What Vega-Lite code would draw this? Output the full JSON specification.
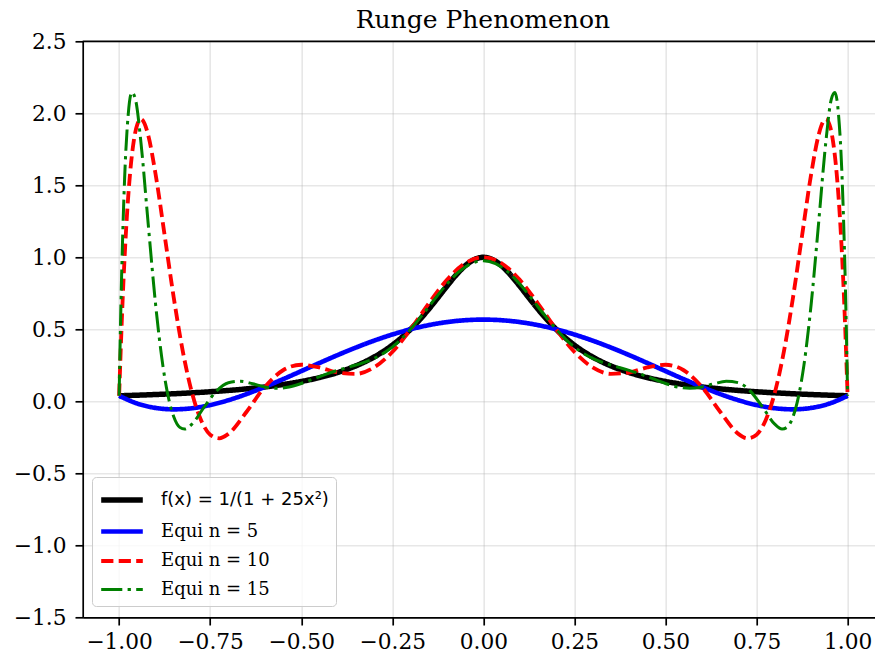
{
  "$schema": "https://vega.github.io/schema/vega-lite/v6.json",
  "width": 792.3,
  "height": 576,
  "autosize": {"type": "none"},
  "padding": {"left": 82.7, "top": 41.3, "right": 0, "bottom": 40.7},
  "title": {"text": "Runge Phenomenon", "font": "DejaVu Serif", "fontSize": 25, "fontWeight": "normal", "color": "black", "offset": -2, "dx": 4},
  "config": {"view": {"stroke": null}, "font": "DejaVu Serif"},
  "layer": [
    {
      "data": {"values": [{}]},
      "mark": {"type": "rule", "stroke": "black", "strokeWidth": 1.7},
      "encoding": {"y": {"datum": 2.5, "type": "quantitative", "scale": {"domain": [-1.5, 2.5], "nice": false, "zero": false}}}
    },
    {
      "data": {"values": [
        {"s": "f", "x": -1, "y": 0.0385}, {"s": "f", "x": -0.95, "y": 0.0424}, {"s": "f", "x": -0.9, "y": 0.0471}, {"s": "f", "x": -0.85, "y": 0.0525}, {"s": "f", "x": -0.8, "y": 0.0588}, {"s": "f", "x": -0.75, "y": 0.0664}, {"s": "f", "x": -0.7, "y": 0.0755}, {"s": "f", "x": -0.65, "y": 0.0865}, {"s": "f", "x": -0.6, "y": 0.1}, {"s": "f", "x": -0.55, "y": 0.1168}, {"s": "f", "x": -0.5, "y": 0.1379}, {"s": "f", "x": -0.45, "y": 0.1649}, {"s": "f", "x": -0.4, "y": 0.2}, {"s": "f", "x": -0.35, "y": 0.2462}, {"s": "f", "x": -0.3, "y": 0.3077}, {"s": "f", "x": -0.275, "y": 0.3459}, {"s": "f", "x": -0.25, "y": 0.3902}, {"s": "f", "x": -0.225, "y": 0.4414}, {"s": "f", "x": -0.2, "y": 0.5}, {"s": "f", "x": -0.175, "y": 0.5664}, {"s": "f", "x": -0.15, "y": 0.64}, {"s": "f", "x": -0.125, "y": 0.7191}, {"s": "f", "x": -0.1, "y": 0.8}, {"s": "f", "x": -0.075, "y": 0.8767}, {"s": "f", "x": -0.05, "y": 0.9412}, {"s": "f", "x": -0.025, "y": 0.9846}, {"s": "f", "x": 0, "y": 1},
        {"s": "f", "x": 0.025, "y": 0.9846}, {"s": "f", "x": 0.05, "y": 0.9412}, {"s": "f", "x": 0.075, "y": 0.8767}, {"s": "f", "x": 0.1, "y": 0.8}, {"s": "f", "x": 0.125, "y": 0.7191}, {"s": "f", "x": 0.15, "y": 0.64}, {"s": "f", "x": 0.175, "y": 0.5664}, {"s": "f", "x": 0.2, "y": 0.5}, {"s": "f", "x": 0.225, "y": 0.4414}, {"s": "f", "x": 0.25, "y": 0.3902}, {"s": "f", "x": 0.275, "y": 0.3459}, {"s": "f", "x": 0.3, "y": 0.3077}, {"s": "f", "x": 0.35, "y": 0.2462}, {"s": "f", "x": 0.4, "y": 0.2}, {"s": "f", "x": 0.45, "y": 0.1649}, {"s": "f", "x": 0.5, "y": 0.1379}, {"s": "f", "x": 0.55, "y": 0.1168}, {"s": "f", "x": 0.6, "y": 0.1}, {"s": "f", "x": 0.65, "y": 0.0865}, {"s": "f", "x": 0.7, "y": 0.0755}, {"s": "f", "x": 0.75, "y": 0.0664}, {"s": "f", "x": 0.8, "y": 0.0588}, {"s": "f", "x": 0.85, "y": 0.0525}, {"s": "f", "x": 0.9, "y": 0.0471}, {"s": "f", "x": 0.95, "y": 0.0424}, {"s": "f", "x": 1, "y": 0.0385},

        {"s": "n5", "x": -1, "y": 0.0385}, {"s": "n5", "x": -0.95, "y": -0.0158}, {"s": "n5", "x": -0.9, "y": -0.046}, {"s": "n5", "x": -0.85, "y": -0.0558}, {"s": "n5", "x": -0.8, "y": -0.0481}, {"s": "n5", "x": -0.75, "y": -0.026}, {"s": "n5", "x": -0.7, "y": 0.0078}, {"s": "n5", "x": -0.65, "y": 0.0506}, {"s": "n5", "x": -0.6, "y": 0.1}, {"s": "n5", "x": -0.55, "y": 0.1537}, {"s": "n5", "x": -0.5, "y": 0.2097}, {"s": "n5", "x": -0.45, "y": 0.2661}, {"s": "n5", "x": -0.4, "y": 0.3212}, {"s": "n5", "x": -0.35, "y": 0.3733}, {"s": "n5", "x": -0.3, "y": 0.4213}, {"s": "n5", "x": -0.25, "y": 0.4638}, {"s": "n5", "x": -0.2, "y": 0.5}, {"s": "n5", "x": -0.15, "y": 0.529}, {"s": "n5", "x": -0.1, "y": 0.5501}, {"s": "n5", "x": -0.05, "y": 0.563}, {"s": "n5", "x": 0, "y": 0.5673},
        {"s": "n5", "x": 0.05, "y": 0.563}, {"s": "n5", "x": 0.1, "y": 0.5501}, {"s": "n5", "x": 0.15, "y": 0.529}, {"s": "n5", "x": 0.2, "y": 0.5}, {"s": "n5", "x": 0.25, "y": 0.4638}, {"s": "n5", "x": 0.3, "y": 0.4213}, {"s": "n5", "x": 0.35, "y": 0.3733}, {"s": "n5", "x": 0.4, "y": 0.3212}, {"s": "n5", "x": 0.45, "y": 0.2661}, {"s": "n5", "x": 0.5, "y": 0.2097}, {"s": "n5", "x": 0.55, "y": 0.1537}, {"s": "n5", "x": 0.6, "y": 0.1}, {"s": "n5", "x": 0.65, "y": 0.0506}, {"s": "n5", "x": 0.7, "y": 0.0078}, {"s": "n5", "x": 0.75, "y": -0.026}, {"s": "n5", "x": 0.8, "y": -0.0481}, {"s": "n5", "x": 0.85, "y": -0.0558}, {"s": "n5", "x": 0.9, "y": -0.046}, {"s": "n5", "x": 0.95, "y": -0.0158}, {"s": "n5", "x": 1, "y": 0.0385},

        {"s": "n10", "x": -1, "y": 0.0385}, {"s": "n10", "x": -0.99, "y": 0.7261}, {"s": "n10", "x": -0.98, "y": 1.2303}, {"s": "n10", "x": -0.97, "y": 1.581}, {"s": "n10", "x": -0.96, "y": 1.8044}, {"s": "n10", "x": -0.95, "y": 1.9236}, {"s": "n10", "x": -0.94, "y": 1.959}, {"s": "n10", "x": -0.93, "y": 1.9279}, {"s": "n10", "x": -0.92, "y": 1.8458}, {"s": "n10", "x": -0.9, "y": 1.5787}, {"s": "n10", "x": -0.875, "y": 1.1517}, {"s": "n10", "x": -0.85, "y": 0.7195}, {"s": "n10", "x": -0.825, "y": 0.345}, {"s": "n10", "x": -0.8, "y": 0.0588}, {"s": "n10", "x": -0.775, "y": -0.1312}, {"s": "n10", "x": -0.75, "y": -0.2315}, {"s": "n10", "x": -0.725, "y": -0.2569}, {"s": "n10", "x": -0.7, "y": -0.2262}, {"s": "n10", "x": -0.65, "y": -0.0726}, {"s": "n10", "x": -0.6, "y": 0.1}, {"s": "n10", "x": -0.55, "y": 0.2156}, {"s": "n10", "x": -0.5, "y": 0.2538}, {"s": "n10", "x": -0.45, "y": 0.235}, {"s": "n10", "x": -0.4, "y": 0.2}, {"s": "n10", "x": -0.35, "y": 0.1906}, {"s": "n10", "x": -0.3, "y": 0.2354}, {"s": "n10", "x": -0.25, "y": 0.3426}, {"s": "n10", "x": -0.2, "y": 0.5}, {"s": "n10", "x": -0.15, "y": 0.679}, {"s": "n10", "x": -0.1, "y": 0.8434}, {"s": "n10", "x": -0.05, "y": 0.9586}, {"s": "n10", "x": 0, "y": 1},
        {"s": "n10", "x": 0.05, "y": 0.9586}, {"s": "n10", "x": 0.1, "y": 0.8434}, {"s": "n10", "x": 0.15, "y": 0.679}, {"s": "n10", "x": 0.2, "y": 0.5}, {"s": "n10", "x": 0.25, "y": 0.3426}, {"s": "n10", "x": 0.3, "y": 0.2354}, {"s": "n10", "x": 0.35, "y": 0.1906}, {"s": "n10", "x": 0.4, "y": 0.2}, {"s": "n10", "x": 0.45, "y": 0.235}, {"s": "n10", "x": 0.5, "y": 0.2538}, {"s": "n10", "x": 0.55, "y": 0.2156}, {"s": "n10", "x": 0.6, "y": 0.1}, {"s": "n10", "x": 0.65, "y": -0.0726}, {"s": "n10", "x": 0.7, "y": -0.2262}, {"s": "n10", "x": 0.725, "y": -0.2569}, {"s": "n10", "x": 0.75, "y": -0.2315}, {"s": "n10", "x": 0.775, "y": -0.1312}, {"s": "n10", "x": 0.8, "y": 0.0588}, {"s": "n10", "x": 0.825, "y": 0.345}, {"s": "n10", "x": 0.85, "y": 0.7195}, {"s": "n10", "x": 0.875, "y": 1.1517}, {"s": "n10", "x": 0.9, "y": 1.5787}, {"s": "n10", "x": 0.92, "y": 1.8458}, {"s": "n10", "x": 0.93, "y": 1.9279}, {"s": "n10", "x": 0.94, "y": 1.959}, {"s": "n10", "x": 0.95, "y": 1.9236}, {"s": "n10", "x": 0.96, "y": 1.8044}, {"s": "n10", "x": 0.97, "y": 1.581}, {"s": "n10", "x": 0.98, "y": 1.2303}, {"s": "n10", "x": 0.99, "y": 0.7261}, {"s": "n10", "x": 1, "y": 0.0385},

        {"s": "n15", "x": -1, "y": 0.0385}, {"s": "n15", "x": -0.995, "y": 0.6752}, {"s": "n15", "x": -0.985, "y": 1.5428}, {"s": "n15", "x": -0.975, "y": 1.9927}, {"s": "n15", "x": -0.965, "y": 2.145}, {"s": "n15", "x": -0.955, "y": 2.0953}, {"s": "n15", "x": -0.94, "y": 1.7951}, {"s": "n15", "x": -0.92, "y": 1.2266}, {"s": "n15", "x": -0.9, "y": 0.6759}, {"s": "n15", "x": -0.88, "y": 0.2497}, {"s": "n15", "x": -0.86667, "y": 0.0506}, {"s": "n15", "x": -0.85, "y": -0.1077}, {"s": "n15", "x": -0.83333, "y": -0.1811}, {"s": "n15", "x": -0.82, "y": -0.1931}, {"s": "n15", "x": -0.8, "y": -0.1589}, {"s": "n15", "x": -0.76667, "y": -0.0408}, {"s": "n15", "x": -0.73333, "y": 0.0692}, {"s": "n15", "x": -0.7, "y": 0.1289}, {"s": "n15", "x": -0.66667, "y": 0.1392}, {"s": "n15", "x": -0.63333, "y": 0.1216}, {"s": "n15", "x": -0.6, "y": 0.1}, {"s": "n15", "x": -0.56667, "y": 0.0908}, {"s": "n15", "x": -0.53333, "y": 0.0996}, {"s": "n15", "x": -0.5, "y": 0.1236}, {"s": "n15", "x": -0.46667, "y": 0.1552}, {"s": "n15", "x": -0.43333, "y": 0.1871}, {"s": "n15", "x": -0.4, "y": 0.215}, {"s": "n15", "x": -0.36667, "y": 0.2394}, {"s": "n15", "x": -0.33333, "y": 0.2647}, {"s": "n15", "x": -0.3, "y": 0.2979}, {"s": "n15", "x": -0.26667, "y": 0.3458}, {"s": "n15", "x": -0.23333, "y": 0.4131}, {"s": "n15", "x": -0.2, "y": 0.5}, {"s": "n15", "x": -0.16667, "y": 0.6022}, {"s": "n15", "x": -0.13333, "y": 0.7109}, {"s": "n15", "x": -0.1, "y": 0.8144}, {"s": "n15", "x": -0.06667, "y": 0.9}, {"s": "n15", "x": -0.03333, "y": 0.9565}, {"s": "n15", "x": 0, "y": 0.9763},
        {"s": "n15", "x": 0.03333, "y": 0.9565}, {"s": "n15", "x": 0.06667, "y": 0.9}, {"s": "n15", "x": 0.1, "y": 0.8144}, {"s": "n15", "x": 0.13333, "y": 0.7109}, {"s": "n15", "x": 0.16667, "y": 0.6022}, {"s": "n15", "x": 0.2, "y": 0.5}, {"s": "n15", "x": 0.23333, "y": 0.4131}, {"s": "n15", "x": 0.26667, "y": 0.3458}, {"s": "n15", "x": 0.3, "y": 0.2979}, {"s": "n15", "x": 0.33333, "y": 0.2647}, {"s": "n15", "x": 0.36667, "y": 0.2394}, {"s": "n15", "x": 0.4, "y": 0.215}, {"s": "n15", "x": 0.43333, "y": 0.1871}, {"s": "n15", "x": 0.46667, "y": 0.1552}, {"s": "n15", "x": 0.5, "y": 0.1236}, {"s": "n15", "x": 0.53333, "y": 0.0996}, {"s": "n15", "x": 0.56667, "y": 0.0908}, {"s": "n15", "x": 0.6, "y": 0.1}, {"s": "n15", "x": 0.63333, "y": 0.1216}, {"s": "n15", "x": 0.66667, "y": 0.1392}, {"s": "n15", "x": 0.7, "y": 0.1289}, {"s": "n15", "x": 0.73333, "y": 0.0692}, {"s": "n15", "x": 0.76667, "y": -0.0408}, {"s": "n15", "x": 0.8, "y": -0.1589}, {"s": "n15", "x": 0.82, "y": -0.1931}, {"s": "n15", "x": 0.83333, "y": -0.1811}, {"s": "n15", "x": 0.85, "y": -0.1077}, {"s": "n15", "x": 0.86667, "y": 0.0506}, {"s": "n15", "x": 0.88, "y": 0.2497}, {"s": "n15", "x": 0.9, "y": 0.6759}, {"s": "n15", "x": 0.92, "y": 1.2266}, {"s": "n15", "x": 0.94, "y": 1.7951}, {"s": "n15", "x": 0.955, "y": 2.0953}, {"s": "n15", "x": 0.965, "y": 2.145}, {"s": "n15", "x": 0.975, "y": 1.9927}, {"s": "n15", "x": 0.985, "y": 1.5428}, {"s": "n15", "x": 0.995, "y": 0.6752}, {"s": "n15", "x": 1, "y": 0.0385}
      ]},
      "encoding": {
        "x": {"field": "x", "type": "quantitative",
          "scale": {"domain": [-1.1, 1.0752], "nice": false, "zero": false},
          "axis": {"values": [-1, -0.75, -0.5, -0.25, 0, 0.25, 0.5, 0.75, 1], "format": ".2f", "title": null,
            "labelFont": "DejaVu Serif", "labelFontSize": 21.7, "labelColor": "black", "labelPadding": 6,
            "tickColor": "black", "tickWidth": 1.7, "tickSize": 7.7, "domainColor": "black", "domainWidth": 1.7,
            "grid": true, "gridColor": "#b0b0b0", "gridOpacity": 0.3, "gridWidth": 1.6, "labelFlush": false, "labelOverlap": false}},
        "y": {"field": "y", "type": "quantitative",
          "scale": {"domain": [-1.5, 2.5], "nice": false, "zero": false},
          "axis": {"values": [-1.5, -1, -0.5, 0, 0.5, 1, 1.5, 2, 2.5], "format": ".1f", "title": null,
            "labelFont": "DejaVu Serif", "labelFontSize": 21.7, "labelColor": "black", "labelPadding": 9,
            "tickColor": "black", "tickWidth": 1.7, "tickSize": 7.7, "domainColor": "black", "domainWidth": 1.7,
            "grid": true, "gridColor": "#b0b0b0", "gridOpacity": 0.3, "gridWidth": 1.6, "labelFlush": false, "labelOverlap": false}},
        "color": {"field": "s", "type": "nominal",
          "scale": {"domain": ["f", "n5", "n10", "n15"], "range": ["#000000", "#0000ff", "#ff0000", "#008000"]},
          "legend": {"title": null, "orient": "none", "legendX": 9.3, "legendY": 435.7,
            "symbolType": "M-1.6,0H1.6", "symbolSize": 676, "symbolOffset": 7, "labelFont": "DejaVu Serif", "labelFontSize": 18, "labelColor": "black",
            "labelOffset": 23, "labelLimit": 400, "rowPadding": 5, "strokeColor": "#cccccc", "fillColor": "rgba(255,255,255,0.8)", "cornerRadius": 4, "padding": 7,
            "labelExpr": "datum.value == 'f' ? 'f(x) = 1/(1 + 25x²)' : 'Equi n = ' + slice(datum.value, 1)",
            "encode": {"labels": {"update": {"font": {"signal": "datum.value == 'f' ? 'DejaVu Sans' : 'DejaVu Serif'"}}}}}},
        "strokeDash": {"field": "s", "type": "nominal",
          "scale": {"domain": ["f", "n5", "n10", "n15"], "range": [[1, 0], [1, 0], [12.2, 5.3], [21.1, 5.3, 3.3, 5.3]]}},
        "strokeWidth": {"field": "s", "type": "ordinal",
          "scale": {"domain": ["f", "n5", "n10", "n15"], "range": [5.5, 3, 3, 3]}}
      },
      "layer": [
        {"transform": [{"filter": "datum.s == 'f'"}], "mark": {"type": "line", "interpolate": "monotone"}},
        {"transform": [{"filter": "datum.s == 'n5'"}], "mark": {"type": "line", "interpolate": "monotone"}},
        {"transform": [{"filter": "datum.s == 'n10'"}], "mark": {"type": "line", "interpolate": "monotone"}},
        {"transform": [{"filter": "datum.s == 'n15'"}], "mark": {"type": "line", "interpolate": "monotone"}}
      ]
    }
  ]
}
